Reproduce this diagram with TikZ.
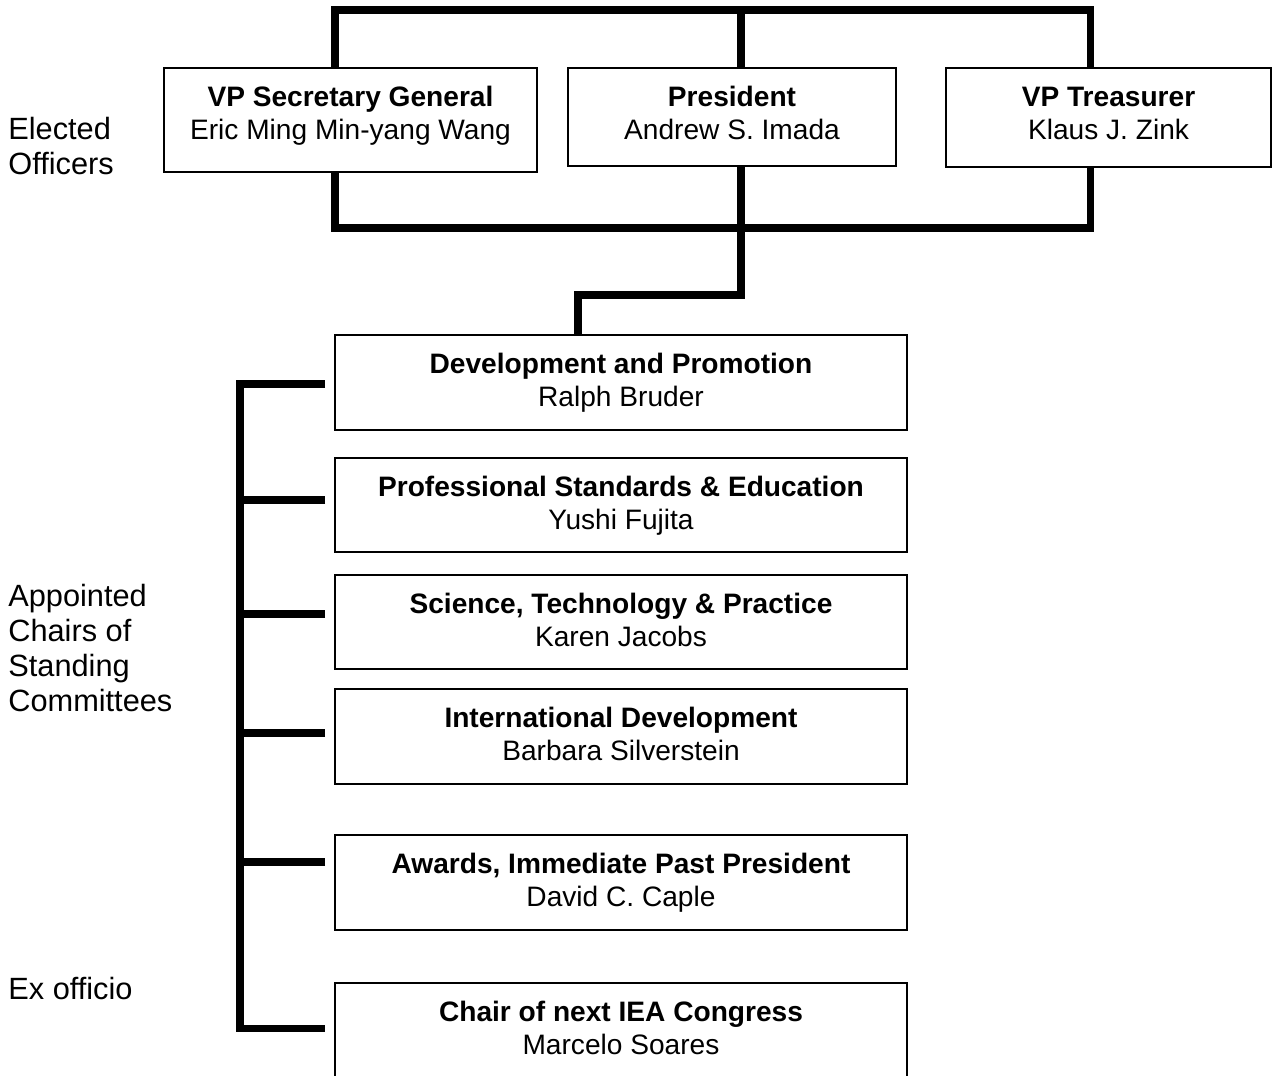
\documentclass[tikz,border=0pt]{standalone}
\usepackage{fontspec}
\setmainfont{Liberation Sans}
\begin{document}
\begin{tikzpicture}[x=0.02cm,y=-0.02cm,
  box/.style={draw=black, line width=1pt, rectangle, inner sep=0pt},
  conn/.style={draw=black, line width=4pt, line join=miter},
  txt/.style={anchor=base, align=center, inner sep=0pt, font=\fontsize{16}{18.7}\selectfont},
  side/.style={anchor=base west, align=left, inner sep=0pt, font=\fontsize{17.5}{19.8}\selectfont}]
\useasboundingbox (0,0) rectangle (1274,1075);
\clip (0,0) rectangle (1274,1075);

% elected officers
\node[box, minimum width=7.46cm, minimum height=2.08cm] (sec) at (350.5,120) {};
\node[box, minimum width=6.56cm, minimum height=1.96cm] (pres) at (732,117) {};
\node[box, minimum width=6.5cm, minimum height=1.98cm] (tre) at (1108.5,117.5) {};
\node[txt] (sect) at (350.5,139) {\textbf{VP Secretary General}\\Eric Ming Min-yang Wang};
\node[txt] (prest) at (732,139) {\textbf{President}\\Andrew S. Imada};
\node[txt] (tret) at (1108.5,139) {\textbf{VP Treasurer}\\Klaus J. Zink};

% committees
\node[box, minimum width=11.44cm, minimum height=1.9cm] (dev) at (621,382.5) {};
\node[box, minimum width=11.44cm, minimum height=1.88cm] (pse) at (621,505) {};
\node[box, minimum width=11.44cm, minimum height=1.88cm] (stp) at (621,622) {};
\node[box, minimum width=11.44cm, minimum height=1.9cm] (idv) at (621,736.5) {};
\node[box, minimum width=11.44cm, minimum height=1.9cm] (awd) at (621,882.5) {};
\node[box, minimum width=11.44cm, minimum height=2.54cm] (chr) at (621,1046.5) {};
\node[txt] (devt) at (621,406) {\textbf{Development and Promotion}\\Ralph Bruder};
\node[txt] (pset) at (621,529) {\textbf{Professional Standards \& Education}\\Yushi Fujita};
\node[txt] (stpt) at (621,646) {\textbf{Science, Technology \& Practice}\\Karen Jacobs};
\node[txt] (idvt) at (621,760) {\textbf{International Development}\\Barbara Silverstein};
\node[txt] (awdt) at (621,906) {\textbf{Awards, Immediate Past President}\\David C. Caple};
\node[txt] (chrt) at (621,1054) {\textbf{Chair of next IEA Congress}\\Marcelo Soares};

% side labels
\node[side] (el) at (8,174) {Elected\\Officers};
\node[side] (ap) at (8,711) {Appointed\\Chairs of\\Standing\\Committees};
\node[side] (ex) at (8,999) {Ex officio};

% top bar
\coordinate (tl) at (335,10);
\coordinate (tm) at (741,10);
\coordinate (tr) at (1090,10);
\draw[conn] (sec.north -| tl) -- (tl) -- (tr) -- (tre.north -| tr);
\draw[conn] (tm) -- (pres.north -| tm);

% bottom bar
\coordinate (bl) at (335,228);
\coordinate (bm) at (741,228);
\coordinate (br) at (1090,228);
\coordinate (j1) at (741,295);
\coordinate (j2) at (578,295);
\draw[conn] (sec.south -| bl) -- (bl) -- (br) -- (tre.south -| br);
\draw[conn] (pres.south -| bm) -- (j1) -- (j2) -- (dev.north -| j2);

% left bracket
\coordinate (v1) at (240,384);
\coordinate (v6) at (240,1028);
\coordinate (s1) at (325,384);
\coordinate (s2) at (325,500);
\coordinate (s3) at (325,614);
\coordinate (s4) at (325,733);
\coordinate (s5) at (325,862);
\coordinate (s6) at (325,1028);
\draw[conn] (s1) -- (v1) -- (v6) -- (s6);
\draw[conn] (s2) -- (s2 -| v1);
\draw[conn] (s3) -- (s3 -| v1);
\draw[conn] (s4) -- (s4 -| v1);
\draw[conn] (s5) -- (s5 -| v1);
\end{tikzpicture}
\end{document}
